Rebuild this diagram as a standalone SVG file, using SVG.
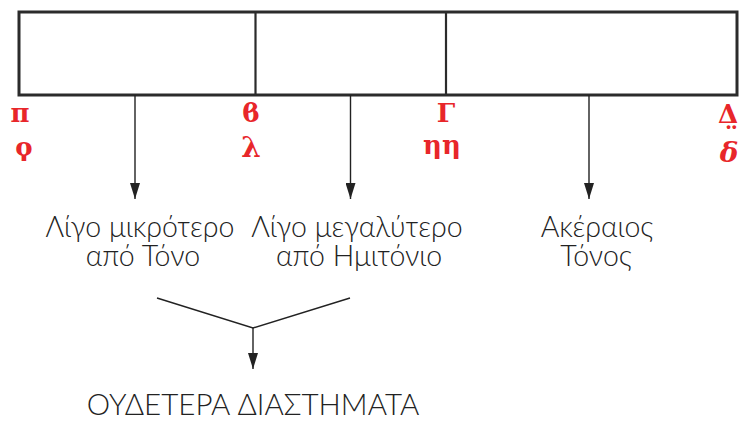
<svg xmlns="http://www.w3.org/2000/svg" width="739" height="422" viewBox="0 0 739 422">
<defs>
<marker id="ah" viewBox="0 0 16 10" refX="16" refY="5" markerWidth="16" markerHeight="10" markerUnits="userSpaceOnUse" orient="auto">
<path d="M0 0 L16 5 L0 10 Z" fill="#222"/>
</marker>
</defs>
<style>
.lbl{font-family:Lato,"Open Sans","Liberation Sans",sans-serif;font-weight:300;font-size:28.5px;fill:#222;text-anchor:middle}
.big{font-size:29.5px}
.ln{stroke:#222;stroke-width:1.4;fill:none}
.red{font-family:"DejaVu Serif","Liberation Serif",serif;font-weight:bold;fill:#e8262a;text-anchor:middle}
</style>
<rect x="0" y="0" width="739" height="422" fill="#fff"/>
<g id="scale">
<rect x="19" y="12" width="718" height="83" fill="none" stroke="#2b2b2b" stroke-width="3"/>
<line x1="255.5" y1="12" x2="255.5" y2="95" stroke="#2b2b2b" stroke-width="2.2"/>
<line x1="446" y1="12" x2="446" y2="95" stroke="#2b2b2b" stroke-width="2.2"/>
</g>
<g id="martyriai">
<text class="red" x="20" y="122" font-size="26">π</text>
<text class="red" x="24" y="156" font-size="26">ϙ</text>
<text class="red" x="251" y="122" font-size="26">ϐ</text>
<text class="red" x="251" y="157" font-size="28">λ</text>
<text class="red" x="446" y="122" font-size="26">Γ</text>
<text class="red" x="442" y="154" font-size="26">ηη</text>
<text class="red" x="728" y="123" font-size="26">Δ̤</text>
<text class="red" x="729" y="162" font-size="28" font-style="italic">δ</text>
</g>
<g id="connectors">
<line class="ln" x1="135" y1="95" x2="135" y2="199" marker-end="url(#ah)"/>
<line class="ln" x1="350.5" y1="95" x2="350.5" y2="199" marker-end="url(#ah)"/>
<line class="ln" x1="589" y1="95" x2="589" y2="199" marker-end="url(#ah)"/>
<polyline class="ln" points="157,298 253,328 350,298"/>
<line class="ln" x1="253" y1="328" x2="253" y2="369" marker-end="url(#ah)"/>
</g>
<g id="node-small">
<text class="lbl"><tspan x="140" y="237">Λίγο μικρότερο</tspan><tspan x="143" y="266">από Τόνο</tspan></text>
</g>
<g id="node-large">
<text class="lbl"><tspan x="357" y="237">Λίγο μεγαλύτερο</tspan><tspan x="359" y="266">από Ημιτόνιο</tspan></text>
</g>
<g id="node-tone">
<text class="lbl"><tspan x="597" y="237">Ακέραιος</tspan><tspan x="596" y="266">Τόνος</tspan></text>
</g>
<g id="node-result">
<text class="lbl big" x="253" y="415">ΟΥΔΕΤΕΡΑ ΔΙΑΣΤΗΜΑΤΑ</text>
</g>
</svg>
